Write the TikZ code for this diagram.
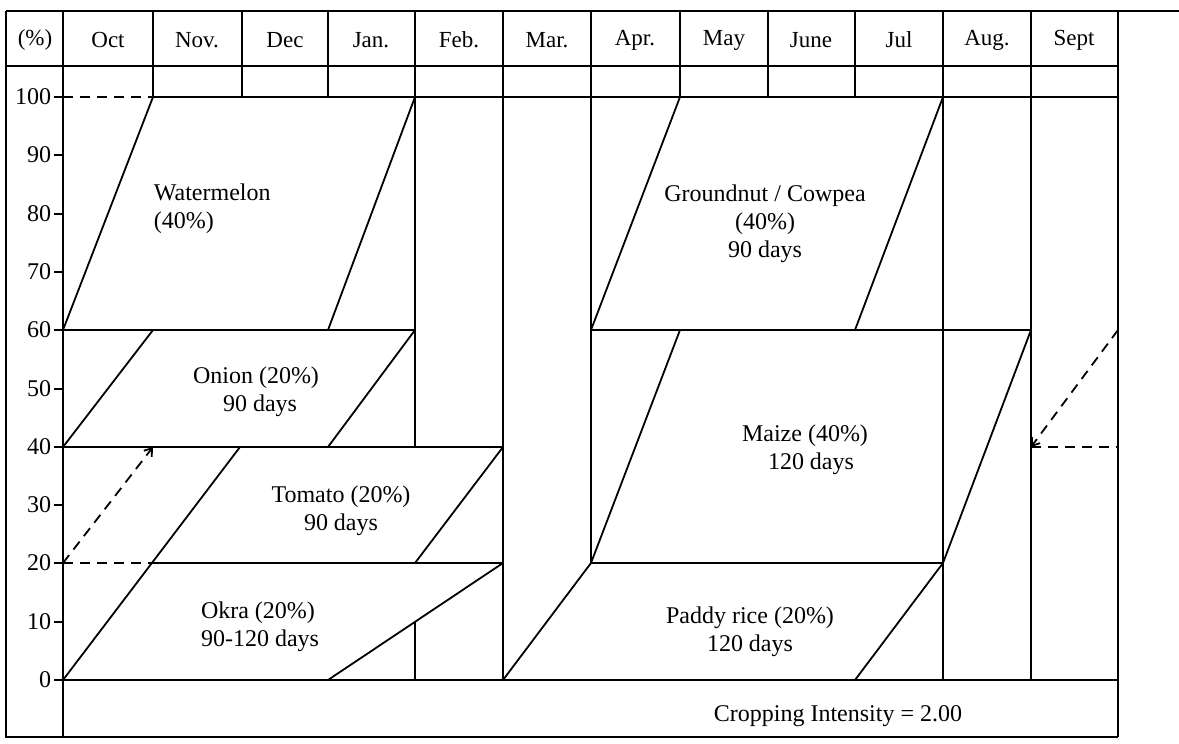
\documentclass[tikz,border=0pt]{standalone}
\usepackage{fontspec}
\setmainfont{Liberation Serif}
\usetikzlibrary{arrows.meta}
\begin{document}
\begin{tikzpicture}[x=0.5pt,y=-0.5pt,line width=0.9pt,line cap=butt,
  guide/.style={line width=0.9pt,dash pattern=on 5pt off 3.5pt},
  relay/.style={guide,-{Straight Barb[length=3.5pt,width=5pt]}},
  croplbl/.style={font=\fontsize{12}{14}\selectfont,align=center,inner sep=0pt},
  hdr/.style={font=\fontsize{11.5}{13}\selectfont,inner sep=0pt},
  ylab/.style={font=\fontsize{12}{14}\selectfont,anchor=east,inner sep=0pt}]
\useasboundingbox (0,0) rectangle (1179,744);
\fill[white] (0,0) rectangle (1179,744);

% ---- outer frame and header rows ----
\draw (6,11) -- (1179,11);
\draw (6,11) -- (6,737) -- (1118,737);
\draw (1118,11) -- (1118,737);
\draw (6,66) -- (1118,66);
\draw (63,11) -- (63,737);
% month separators in the two header rows
\foreach \x in {153,242,328,680,768,855} \draw (\x,11) -- (\x,97);
% separators running down through the chart
\draw (415,11) -- (415,447);
\draw (415,622) -- (415,680);
\draw (503,11) -- (503,680);
\draw (591,11) -- (591,563);
\draw (943,11) -- (943,680);
\draw (1031,11) -- (1031,680);

% ---- header labels ----
\node[hdr] (hpc) at (35,40) {(\%)};
\foreach \x/\m [count=\i] in {108/Oct,197/Nov.,285/Dec,371/Jan.,459/Feb.,547/Mar.,635/Apr.,724/May,811/June,899/Jul,987/Aug.,1074/Sept}
  \node[hdr] (m\i) at (\x,40) {\m};

% ---- percentage axis ----
\foreach \p/\y in {100/97,90/155,80/214,70/272,60/330,50/389,40/447,30/505,20/563,10/622,0/680}{
  \draw (54,\y) -- (63,\y);
  \node[ylab] (y\p) at (52,\y) {\p};
}
\draw (63,97) -- (68,97);

% ---- horizontal level lines ----
\draw[guide] (63,97) -- (153,97);
\draw (153,97) -- (1118,97);
\draw (63,330) -- (415,330);
\draw (591,330) -- (1031,330);
\draw (63,447) -- (503,447);
\draw[guide] (1031,447) -- (1118,447);
\draw[guide] (63,563) -- (153,563);
\draw (153,563) -- (503,563);
\draw (591,563) -- (943,563);
\draw (63,680) -- (1118,680);

% ---- dry season crops ----
% watermelon
\draw (63,330) -- (153,97);
\draw (328,330) -- (415,97);
% onion
\draw (63,447) -- (153,330);
\draw (328,447) -- (415,330);
% okra left edge continuing into tomato
\draw (63,680) -- (240,447);
\draw (415,563) -- (503,447);
\draw (328,680) -- (503,563);
\draw[relay] (63,563) -- (153,447);

% ---- wet season crops ----
% paddy rice
\draw (503,680) -- (591,563);
\draw (855,680) -- (943,563);
% maize
\draw (591,563) -- (680,330);
\draw (943,563) -- (1031,330);
% groundnut / cowpea
\draw (591,330) -- (680,97);
\draw (855,330) -- (943,97);
\draw[relay] (1118,330) -- (1031,447);

% ---- crop labels ----
\node[croplbl,align=left,anchor=north west] (wm) at (153,183) {Watermelon\\(40\%)};
\node[croplbl] (on) at (256,392) {Onion (20\%)\\\hspace*{4pt}90 days};
\node[croplbl] (to) at (341,511) {Tomato (20\%)\\90 days};
\node[croplbl,align=left] (ok) at (260,627) {Okra (20\%)\\90-120 days};
\node[croplbl] (gn) at (765,224) {Groundnut / Cowpea\\(40\%)\\90 days};
\node[croplbl] (mz) at (805,450) {Maize (40\%)\\\hspace*{6pt}120 days};
\node[croplbl] (pr) at (750,632) {Paddy rice (20\%)\\120 days};
\node[croplbl] (ci) at (838,716) {Cropping Intensity = 2.00};
\end{tikzpicture}
\end{document}
